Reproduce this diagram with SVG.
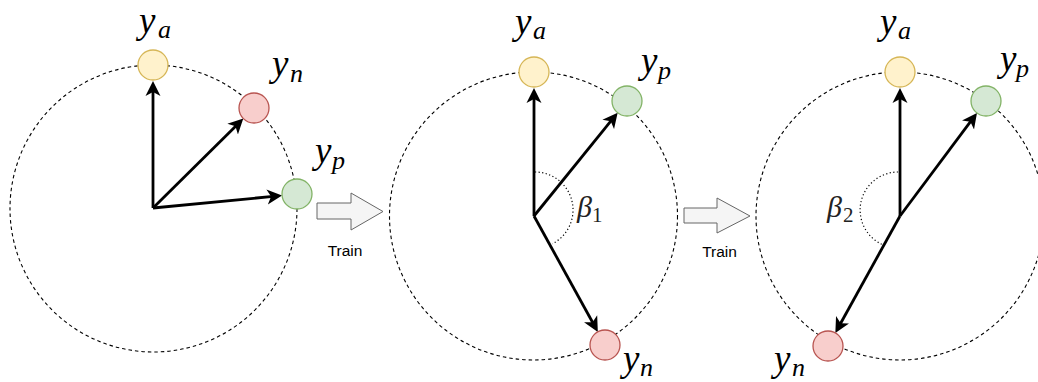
<svg xmlns="http://www.w3.org/2000/svg" width="1038" height="382" viewBox="0 0 1038 382">
<style>
.orbit{fill:none;stroke:#000;stroke-width:1.1;stroke-dasharray:3.5 3}
.vec{fill:none;stroke:#000;stroke-width:2.8;marker-end:url(#ah)}
.angle{fill:none;stroke:#000;stroke-width:1.2;stroke-dasharray:1.2 2.4}
.na{fill:#fff2cc;stroke:#d6b656;stroke-width:1.3}
.nn{fill:#f8cecc;stroke:#b85450;stroke-width:1.3}
.np{fill:#d5e8d4;stroke:#82b366;stroke-width:1.3}
.train{fill:#f5f5f5;stroke:#666666;stroke-width:1}
.lbl{font-family:"Liberation Serif","DejaVu Serif",serif;font-style:italic;font-size:37px;fill:#000}
.sub{font-family:"Liberation Serif","DejaVu Serif",serif;font-style:italic;font-size:26px;fill:#000}
.beta{font-family:"Liberation Serif","DejaVu Serif",serif;font-style:italic;font-size:30px;fill:#222}
.bsub{font-family:"Liberation Serif","DejaVu Serif",serif;font-size:21px;fill:#222}
.tt{font-family:"Liberation Sans",Arial,sans-serif;font-size:15.5px;fill:#000;text-anchor:middle}
</style>
<defs>
<marker id="ah" markerUnits="userSpaceOnUse" viewBox="0 -8 16 16" refX="6" refY="0" markerWidth="16" markerHeight="16" orient="auto">
<path d="M15,0 L0,-7.5 L4,0 L0,7.5 Z" fill="#000"/>
</marker>
</defs>
<rect width="1038" height="382" fill="#fff"/>

<g id="orbits">
<circle class="orbit" cx="153.5" cy="208.5" r="143.5"/>
<circle class="orbit" cx="533.5" cy="216" r="144"/>
<circle class="orbit" cx="900" cy="216" r="144"/>
</g>

<g id="connectors">
<line class="vec" x1="153" y1="208" x2="153" y2="90"/>
<line class="vec" x1="153" y1="208" x2="236.9" y2="124.9"/>
<line class="vec" x1="153" y1="208" x2="273.1" y2="196.4"/>
<line class="vec" x1="534" y1="216" x2="534" y2="97"/>
<line class="vec" x1="534" y1="216" x2="612" y2="119.7"/>
<line class="vec" x1="534" y1="216" x2="593.5" y2="324"/>
<line class="vec" x1="900" y1="216" x2="900" y2="97"/>
<line class="vec" x1="900" y1="216" x2="971.6" y2="120.2"/>
<line class="vec" x1="900" y1="216" x2="839.7" y2="325"/>
<path class="angle" d="M535,172 A38,38 0 0 1 552.4,243.8"/>
<path class="angle" d="M898,172 A38,38 0 0 0 882.2,244.5"/>
</g>

<g id="panel1-ya"><circle class="na" cx="153" cy="65" r="15"/><text class="lbl" x="139" y="33">y</text><text class="sub" x="158" y="38">a</text></g>
<g id="panel1-yn"><circle class="nn" cx="254" cy="108" r="15"/><text class="lbl" x="272" y="76">y</text><text class="sub" x="290" y="82">n</text></g>
<g id="panel1-yp"><circle class="np" cx="297" cy="194" r="15"/><text class="lbl" x="315" y="163">y</text><text class="sub" x="332" y="169">p</text></g>

<g id="train1"><polygon class="train" points="317,203 351,203 351,193 383,211.5 351,230 351,219 317,219"/><text class="tt" x="345" y="256">Train</text></g>

<g id="panel2-ya"><circle class="na" cx="534" cy="72" r="15"/><text class="lbl" x="515" y="34">y</text><text class="sub" x="533" y="39">a</text></g>
<g id="panel2-yp"><circle class="np" cx="627" cy="101" r="15"/><text class="lbl" x="641" y="73">y</text><text class="sub" x="658" y="79">p</text></g>
<g id="panel2-yn"><circle class="nn" cx="605" cy="345" r="15"/><text class="lbl" x="623" y="371">y</text><text class="sub" x="640" y="376">n</text></g>
<g id="beta1"><text class="beta" x="577" y="217">β</text><text class="bsub" x="592" y="222">1</text></g>

<g id="train2"><polygon class="train" points="684,208 717,208 717,198 750,216 717,233 717,223 684,223"/><text class="tt" x="719.5" y="257">Train</text></g>

<g id="panel3-ya"><circle class="na" cx="900" cy="72" r="15"/><text class="lbl" x="880" y="34">y</text><text class="sub" x="898" y="39">a</text></g>
<g id="panel3-yp"><circle class="np" cx="986" cy="101" r="15"/><text class="lbl" x="1000" y="71">y</text><text class="sub" x="1016" y="77">p</text></g>
<g id="panel3-yn"><circle class="nn" cx="828" cy="346" r="15"/><text class="lbl" x="774" y="371">y</text><text class="sub" x="792" y="376">n</text></g>
<g id="beta2"><text class="beta" x="827" y="217">β</text><text class="bsub" x="843" y="222">2</text></g>
</svg>
